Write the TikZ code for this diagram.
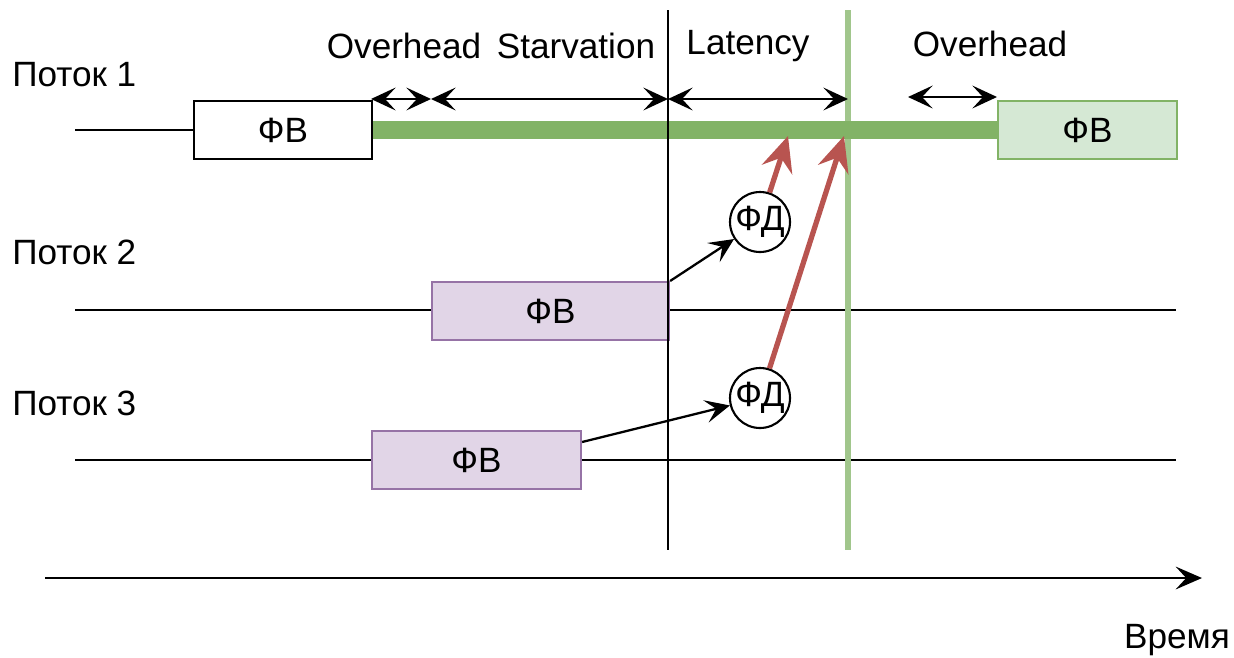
\documentclass[tikz,border=0pt]{standalone}
\usepackage{fontspec}
\setmainfont{Liberation Sans}
\usetikzlibrary{arrows.meta}
\definecolor{gline}{HTML}{82B366}
\definecolor{gfill}{HTML}{D5E8D4}
\definecolor{pfill}{HTML}{E1D5E7}
\definecolor{pline}{HTML}{9673A6}
\definecolor{rline}{HTML}{B85450}
\begin{document}
\begin{tikzpicture}[x=0.02cm,y=-0.02cm,
  txt/.style={font=\fontsize{20}{24}\selectfont, inner sep=0pt},
  fvbox/.style={draw, line width=1.2pt, minimum width=#1*0.02cm, minimum height=58*0.02cm, inner sep=0pt, font=\fontsize{20}{24}\selectfont},
  tl/.style={line width=1.2pt},
  arr/.style={line width=1.3pt, -{Stealth[length=14pt,width=13pt,inset=6pt]}},
  darr/.style={line width=1.3pt, {Stealth[length=14pt,width=13pt,inset=6pt]}-{Stealth[length=14pt,width=13pt,inset=6pt]}},
  rarr/.style={line width=3pt, draw=rline, -{Stealth[length=20pt,width=18pt,inset=7pt]}},
  fd/.style={draw, circle, line width=1.2pt, minimum size=60*0.02cm, inner sep=0pt, fill=white, font=\fontsize{20}{24}\selectfont},
]
\useasboundingbox (0,0) rectangle (1234,657);
% labels
\node[txt, anchor=west] (p1) at (12,75) {Поток 1};
\node[txt, anchor=west] (p2) at (12,252) {Поток 2};
\node[txt, anchor=west] (p3) at (12,403) {Поток 3};
\node[txt] (lo1) at (404,46) {Overhead};
\node[txt] (ls) at (576,46) {Starvation};
\node[txt] (ll) at (748,46) {Latency};
\node[txt] (lo2) at (990,44) {Overhead};
\node[txt] (time) at (1177,640) {Время};
% coordinates
\coordinate (t1s) at (75,130);
\coordinate (t2s) at (75,310);
\coordinate (t2e) at (1176,310);
\coordinate (t3s) at (75,460);
\coordinate (t3e) at (1176,460);
\coordinate (v1t) at (668,10);
\coordinate (v1b) at (668,550);
\coordinate (v2t) at (848,10);
\coordinate (v2b) at (848,550);
\coordinate (axs) at (45,578);
\coordinate (axe) at (1202,578);
% thread lines
\draw[tl] (t2s) -- (t2e);
\draw[tl] (t3s) -- (t3e);
% vertical lines
\draw[line width=3.5pt, draw=gline!75] (v2t) -- (v2b);
% boxes
\node[fvbox=178, fill=white, anchor=west] (b1) at (193,130) {ФВ};
\node[fvbox=179, fill=gfill, draw=gline, anchor=west] (b4) at (997,130) {ФВ};
\node[fvbox=237, fill=pfill, draw=pline, anchor=north west] (b2) at (431,281) {ФВ};
\node[fvbox=209, fill=pfill, draw=pline, anchor=north west] (b3) at (371,430) {ФВ};
\draw[tl] (t1s) -- (b1.west);
\draw[line width=10pt, draw=gline] (b1.east) -- (b4.west);
\draw[tl] (v1t) -- (v1b);
% measurement arrows
\coordinate (m1) at (371,99);
\coordinate (m2) at (431,99);
\coordinate (m3) at (668,99);
\coordinate (m4) at (848,99);
\coordinate (m5) at (908,97);
\coordinate (m6) at (997,97);
\draw[darr] (m1) -- (m2);
\draw[darr] (m2) -- (m3);
\draw[darr] (m3) -- (m4);
\draw[darr] (m5) -- (m6);
% FD circles
\node[fd] (fd1) at (760,222) {ФД};
\node[fd] (fd2) at (760,398) {ФД};
\draw[arr] (b2.north east) -- (fd1);
\draw[arr] ([yshift=-12*0.02cm]b3.north east) -- (fd2);
\coordinate (r1) at (788,136);
\coordinate (r2) at (844,136);
\draw[rarr] (fd1) -- (r1);
\draw[rarr] (fd2) -- (r2);
% axis
\draw[line width=1.3pt, -{Stealth[length=15pt,width=13pt,inset=6pt]}] (axs) -- (axe);
\end{tikzpicture}
\end{document}
